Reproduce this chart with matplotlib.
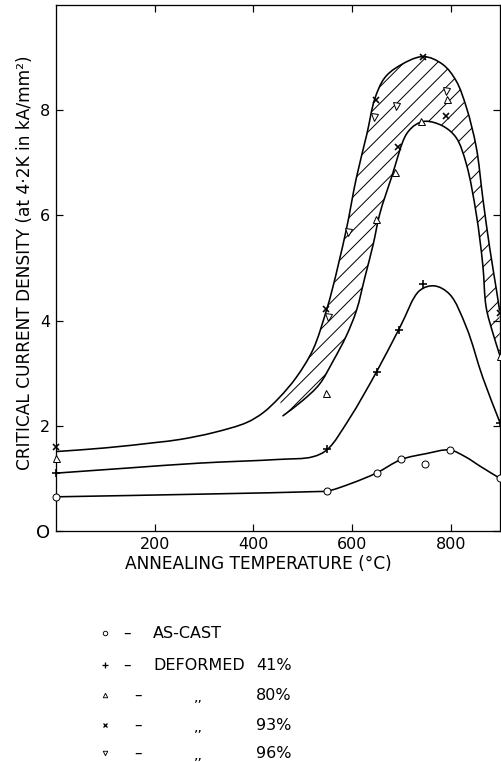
import matplotlib
matplotlib.use("Agg")
import matplotlib.pyplot as plt
from matplotlib.patches import PathPatch
from matplotlib.path import Path
import numpy as np

plt.rcParams['font.family'] = ['DejaVu Sans']

# ---------------- data ----------------
# measured points
as_cast_T = [0, 550, 650, 700, 747, 798, 900]
as_cast_J = [0.65, 0.76, 1.10, 1.37, 1.27, 1.54, 1.01]

def41_T = [0, 550, 650, 695, 744, 900]
def41_J = [1.10, 1.55, 3.03, 3.82, 4.70, 2.06]

def80_T = [0, 548, 649, 688, 740, 792, 900]
def80_J = [1.39, 2.63, 5.93, 6.83, 7.80, 8.22, 3.33]

def93_T = [0, 548, 648, 693, 744, 791, 900]
def93_J = [1.59, 4.22, 8.20, 7.30, 9.01, 7.89, 4.15]

def96_T = [551, 592, 645, 690, 790]
def96_J = [4.06, 5.69, 7.88, 8.08, 8.36]

# hand-drawn curves (traced)
cast_curve_T = [0, 290, 530, 551, 600, 649, 700, 750, 798, 830, 860, 900]
cast_curve_J = [0.65, 0.70, 0.75, 0.76, 0.91, 1.10, 1.36, 1.47, 1.54, 1.41, 1.23, 1.00]

d41_curve_T = [0, 150, 290, 450, 520, 550, 595, 650, 697, 737, 767, 798, 832, 865, 900]
d41_curve_J = [1.10, 1.20, 1.29, 1.36, 1.41, 1.55, 2.14, 3.03, 3.87, 4.57, 4.66, 4.50, 3.87, 2.92, 2.06]

outer_T = [0, 100, 200, 251, 319, 386, 420, 453, 487, 521, 548, 561, 588, 609, 630, 646,
           665, 690, 744, 784, 811, 832, 852, 865, 879, 893, 899]
outer_J = [1.51, 1.58, 1.68, 1.74, 1.87, 2.06, 2.25, 2.54, 2.92, 3.45, 4.19, 4.63, 5.71,
           6.72, 7.54, 8.21, 8.60, 8.81, 9.02, 8.87, 8.56, 8.05, 7.29, 6.34, 5.39, 4.57, 4.20]

inner_T = [460, 500, 534, 561, 588, 609, 626, 643, 656, 680, 710, 730, 750, 784, 811, 832,
           852, 865, 872, 886, 900]
inner_J = [2.19, 2.48, 2.79, 3.22, 3.70, 4.19, 4.82, 5.45, 6.02, 6.72, 7.54, 7.73, 7.79,
           7.70, 7.48, 6.97, 6.02, 5.07, 4.25, 3.75, 3.33]

x_ticks = [200, 400, 600, 800]
y_ticks = [0, 2, 4, 6, 8]
y_ticklabels = ['O', '2', '4', '6', '8']

legend_labels = ['AS-CAST', 'DEFORMED', ',,', ',,', ',,']
legend_pcts = ['', '41%', '80%', '93%', '96%']

# ---------------- figure ----------------
W, H = 502, 762
DPI = 50
P = 72.0 / DPI          # points per output pixel
plt.rcParams['hatch.linewidth'] = 1.0 * P

fig = plt.figure(figsize=(W / DPI, H / DPI), dpi=DPI)
ax = fig.add_axes([56 / W, 1 - 531 / H, 444 / W, 526 / H])
ax.set_xlim(0, 900)
ax.set_ylim(0, 10)


def smooth_vertices(xs, ys):
    """Centripetal Catmull-Rom through the traced points, as cubic Bezier
    vertices (computed in display space, returned in data space)."""
    Q = ax.transData.transform(np.column_stack([xs, ys]).astype(float))
    Q = np.vstack([2 * Q[0] - Q[1], Q, 2 * Q[-1] - Q[-2]])
    verts = [Q[1]]
    for i in range(1, len(Q) - 2):
        p0, p1, p2, p3 = Q[i - 1], Q[i], Q[i + 1], Q[i + 2]
        d1 = max(np.linalg.norm(p1 - p0), 1e-6) ** 0.5
        d2 = max(np.linalg.norm(p2 - p1), 1e-6) ** 0.5
        d3 = max(np.linalg.norm(p3 - p2), 1e-6) ** 0.5
        b1 = (d1**2 * p2 - d2**2 * p0 + (2 * d1**2 + 3 * d1 * d2 + d2**2) * p1) / (3 * d1 * (d1 + d2))
        b2 = (d3**2 * p1 - d2**2 * p3 + (2 * d3**2 + 3 * d3 * d2 + d2**2) * p2) / (3 * d3 * (d3 + d2))
        verts += [b1, b2, p2]
    return ax.transData.inverted().transform(np.array(verts))


def curve_path(xs, ys):
    v = smooth_vertices(xs, ys)
    codes = [Path.MOVETO] + [Path.CURVE4] * (len(v) - 1)
    return Path(v, codes)


lw = 1.6 * P
# hatched band between the outer and inner curves
ot = np.array(outer_T, float); oj = np.array(outer_J, float)
mask = ot >= 450
vo = smooth_vertices(ot[mask], oj[mask])
vi = smooth_vertices(inner_T[::-1], inner_J[::-1])
band_v = np.vstack([vo, vi, vo[:1]])
band_c = ([Path.MOVETO] + [Path.CURVE4] * (len(vo) - 1) + [Path.LINETO] +
          [Path.CURVE4] * (len(vi) - 1) + [Path.CLOSEPOLY])
ax.add_patch(PathPatch(Path(band_v, band_c), facecolor='none', edgecolor='black',
                       linewidth=0, hatch='/', zorder=1))

for xs, ys in [(cast_curve_T, cast_curve_J), (d41_curve_T, d41_curve_J),
               (outer_T, outer_J), (inner_T, inner_J)]:
    ax.add_patch(PathPatch(curve_path(xs, ys), facecolor='none', edgecolor='black',
                           linewidth=lw, zorder=2, capstyle='round', joinstyle='round'))

mk = dict(linestyle='none', color='black', zorder=4, clip_on=False)
ax.plot(as_cast_T, as_cast_J, marker='o', ms=7 * P, mfc='white', mew=1.0 * P, **mk)
ax.plot(def41_T, def41_J, marker='+', ms=8 * P, mew=1.6 * P, **mk)
ax.plot(def80_T, def80_J, marker='^', ms=7 * P, mfc='white', mew=1.0 * P, **mk)
ax.plot(def93_T, def93_J, marker='x', ms=6 * P, mew=1.6 * P, **mk)
ax.plot(def96_T, def96_J, marker='v', ms=7 * P, mfc='white', mew=1.0 * P, **mk)

for s in ax.spines.values():
    s.set_linewidth(1.3 * P)

ax.set_xticks(x_ticks)
ax.set_xticklabels([str(t) for t in x_ticks])
ax.set_yticks(y_ticks)
ax.set_yticklabels(y_ticklabels)
ax.tick_params(direction='in', length=7 * P, width=1.2 * P, labelsize=16 * P, pad=6 * P,
               top=True, right=True)
ax.get_yticklabels()[0].set_fontsize(18 * P)

ax.set_xlabel('ANNEALING TEMPERATURE (°C)', fontsize=17 * P)
ax.xaxis.set_label_coords(0.455, -0.045)
ax.set_ylabel('CRITICAL CURRENT DENSITY (at 4·2K in kA/mm²)', fontsize=17 * P)
ax.yaxis.set_label_coords(-0.05, 0.51)

# ---------------- legend block below ----------------
lax = fig.add_axes([0, 0, 1, 1])
lax.set_xlim(0, W)
lax.set_ylim(H, 0)
lax.axis('off')
rows_y = [633, 665, 695, 725, 753]
key_styles = [dict(marker='o', ms=4.5 * P, mfc='white', mew=0.9 * P),
              dict(marker='+', ms=6 * P, mew=1.3 * P),
              dict(marker='^', ms=4.5 * P, mfc='white', mew=0.9 * P),
              dict(marker='x', ms=4.5 * P, mew=1.3 * P),
              dict(marker='v', ms=4.5 * P, mfc='white', mew=0.9 * P)]
for i, (yy, st) in enumerate(zip(rows_y, key_styles)):
    lax.plot([105], [yy], linestyle='none', color='black', **st)
    dash_x = 127 if i < 2 else 138
    lax.text(dash_x, yy, '–', fontsize=15 * P, ha='center', va='center')
    if i < 2:
        lax.text(153, yy, legend_labels[i], fontsize=16 * P, ha='left', va='center')
    else:
        lax.text(198, yy + 2, legend_labels[i], fontsize=14 * P, ha='center', va='center')
    if legend_pcts[i]:
        lax.text(256, yy, legend_pcts[i], fontsize=16 * P, ha='left', va='center')

fig.savefig('out.png', dpi=DPI)
